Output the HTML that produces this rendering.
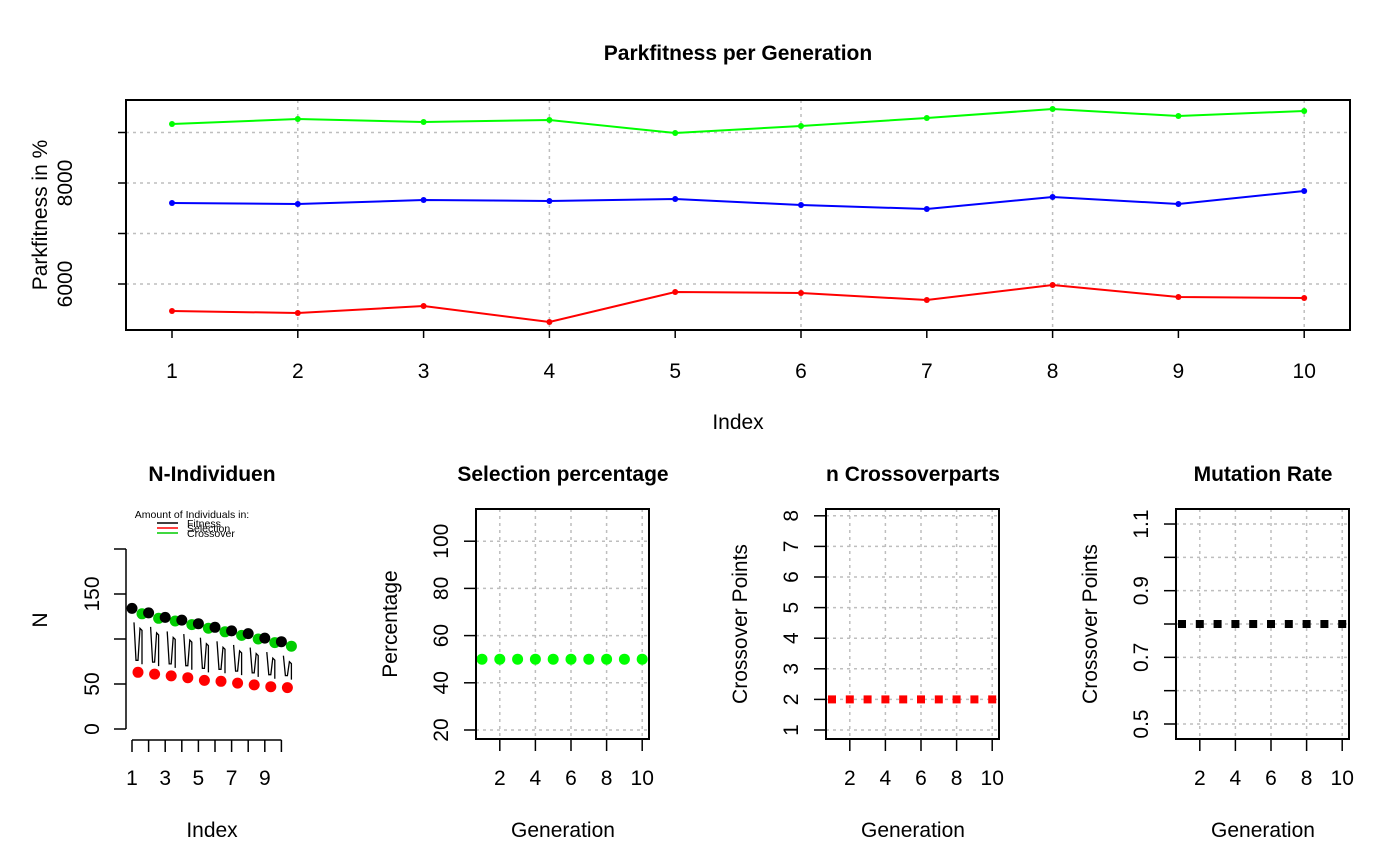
<!DOCTYPE html>
<html><head><meta charset="utf-8">
<style>
html,body{margin:0;padding:0;background:#fff;}
svg{display:block;font-family:"Liberation Sans",Arial,sans-serif;}
</style></head>
<body>
<svg id="c" width="1400" height="866" viewBox="0 0 1400 866"></svg>
<script>
// ---- data ----
const gens = [1,2,3,4,5,6,7,8,9,10];
const fitGreen = [9168,9267,9208,9248,8990,9129,9287,9465,9327,9426];
const fitBlue = [7604,7584,7663,7644,7683,7564,7485,7723,7584,7842];
const fitRed = [5465,5426,5564,5248,5842,5822,5683,5980,5743,5723];
const topYTicks = [6000,8000];
const topYGrid = [6000,7000,8000,9000];
const nFitness = [134,129,124,121,117,113,109,106,101,97];
const nCrossover = [128,123,120,116,112,108,104,100,96,92];
const nSelection = [63,61,59,57,54,53,51,49,47,46];
const nYTicks = [0,50,100,150,200];
const nYLabels = ["0","50","","150",""];
const nXLabels = ["1","","3","","5","","7","","9",""];
const selValues = [50,50,50,50,50,50,50,50,50,50];
const selTicks = [20,40,60,80,100];
const crossValues = [2,2,2,2,2,2,2,2,2,2];
const crossTicks = [1,2,3,4,5,6,7,8];
const mutValues = [0.8,0.8,0.8,0.8,0.8,0.8,0.8,0.8,0.8,0.8];
const mutTicks = [0.5,0.6,0.7,0.8,0.9,1.0,1.1];
const mutLabels = ["0.5","","0.7","","0.9","","1.1"];
const genTicks = [2,4,6,8,10];

const FS = 21;
const svg = document.getElementById('c');
const NS = 'http://www.w3.org/2000/svg';
function el(tag, attrs, parent){
  const e = document.createElementNS(NS, tag);
  for (const k in attrs) e.setAttribute(k, attrs[k]);
  (parent||svg).appendChild(e);
  return e;
}
function txt(s, x, y, size, opts, parent){
  const t = el('text', {x:x, y:y, 'font-size':size, 'text-anchor':(opts&&opts.anchor)||'middle', fill:'#000'}, parent);
  if (opts && opts.bold) t.setAttribute('font-weight','bold');
  if (opts && opts.rot) t.setAttribute('transform','rotate(-90 '+x+' '+y+')');
  t.textContent = s;
  return t;
}
const grid = {stroke:'#bebebe','stroke-width':1.5,'stroke-dasharray':'3 4'};

// ---- top chart ----
const topChart = el('g', {});


const tx = v => 172 + (v-1)*125.8;
const ty = v => 284 - (v-6000)*101/2000;
topYGrid.forEach(v=>{ el('line',Object.assign({x1:126,x2:1350,y1:ty(v),y2:ty(v)},grid),topChart); });
gens.forEach(g=>{ if(g%2===0) el('line',Object.assign({x1:tx(g),x2:tx(g),y1:100,y2:330},grid),topChart); });
function series(vals, color, name){
  const g = el('g', {}, topChart);
  
  
  el('polyline',{points:vals.map((v,i)=>tx(gens[i])+','+ty(v)).join(' '),fill:'none',stroke:color,'stroke-width':2},g);
  vals.forEach((v,i)=>el('circle',{cx:tx(gens[i]),cy:ty(v),r:3,fill:color},g));
}
series(fitGreen,'#00ff00','series-crossover');
series(fitBlue,'#0000ff','series-fitness');
series(fitRed,'#ff0000','series-selection');
el('rect',{x:126,y:100,width:1224,height:230,fill:'none',stroke:'#000','stroke-width':2},topChart);
gens.forEach(g=>{ el('line',{x1:tx(g),x2:tx(g),y1:330,y2:338,stroke:'#000','stroke-width':1.5},topChart); txt(String(g),tx(g),378,FS,null,topChart); });
topYGrid.forEach(v=>{ el('line',{x1:118,x2:126,y1:ty(v),y2:ty(v),stroke:'#000','stroke-width':1.5},topChart); });
topYTicks.forEach(v=>{ txt(String(v),72,ty(v),FS,{rot:true},topChart); });
txt('Parkfitness per Generation',738,60,FS,{bold:true},topChart);
txt('Index',738,429,FS,null,topChart);
txt('Parkfitness in %',47,215,FS,{rot:true},topChart);

// ---- N-Individuen ----
const np = el('g', {});


const nx = i => 132 + (i-1)*16.6;
const ny = v => 729 - v*0.9;
el('line',{x1:126,x2:126,y1:ny(200),y2:ny(0),stroke:'#000','stroke-width':1.5},np);
nYTicks.forEach((v,i)=>{ el('line',{x1:114,x2:126,y1:ny(v),y2:ny(v),stroke:'#000','stroke-width':1.5},np); if(nYLabels[i]) txt(nYLabels[i],99,ny(v),FS,{rot:true},np); });
el('line',{x1:nx(1),x2:nx(10),y1:740,y2:740,stroke:'#000','stroke-width':1.5},np);
gens.forEach((g,i)=>{ el('line',{x1:nx(g),x2:nx(g),y1:740,y2:752,stroke:'#000','stroke-width':1.5},np); if(nXLabels[i]) txt(nXLabels[i],nx(g),785,FS,null,np); });
gens.forEach((g,i)=>{
  const x = nx(g), t = ny(nFitness[i])+14, b = ny(nSelection[i])-12;
  el('polyline',{points:[x+2,t,x+4,b,x+6,b,x+8,t+6,x+10,t+8,x+10,b+4].join(' '),fill:'none',stroke:'#000','stroke-width':1.3},np);
});
gens.forEach((g,i)=>{
  el('circle',{cx:nx(g)+10,cy:ny(nCrossover[i]),r:5.5,fill:'#00cc00'},np);
  el('circle',{cx:nx(g),cy:ny(nFitness[i]),r:5.5,fill:'#000'},np);
  el('circle',{cx:nx(g)+6,cy:ny(nSelection[i]),r:5.5,fill:'#ff0000'},np);
});
const lg = el('g',{},np);


txt('Amount of Individuals in:',192,518,10.5,null,lg);
[['Fitness','#000'],['Selection','#f00'],['Crossover','#0c0']].forEach((e,i)=>{
  el('line',{x1:157,x2:178,y1:523+i*5,y2:523+i*5,stroke:e[1],'stroke-width':1.5},lg);
  txt(e[0],187,527+i*5,10.5,{anchor:'start'},lg);
});
txt('N-Individuen',212,481,FS,{bold:true},np);
txt('Index',212,837,FS,null,np);
txt('N',47,620,FS,{rot:true},np);

// ---- small box panels ----
function panel(name, x0, title, ylab, ticks, labels, ymap, vals, marker){
  const g = el('g', {});
  
  
  const px = i => x0 + 6 + (i-1)*17.8;
  ticks.forEach(v=>el('line',Object.assign({x1:x0,x2:x0+173,y1:ymap(v),y2:ymap(v)},grid),g));
  genTicks.forEach(v=>el('line',Object.assign({x1:px(v),x2:px(v),y1:509,y2:739},grid),g));
  vals.forEach((v,i)=>{
    if(marker==='circle') el('circle',{cx:px(gens[i]),cy:ymap(v),r:5.5,fill:'#00ff00'},g);
    else el('rect',{x:px(gens[i])-4,y:ymap(v)-4,width:8,height:8,fill:marker},g);
  });
  el('rect',{x:x0,y:509,width:173,height:230,fill:'none',stroke:'#000','stroke-width':2},g);
  ticks.forEach((v,i)=>{ el('line',{x1:x0-12,x2:x0,y1:ymap(v),y2:ymap(v),stroke:'#000','stroke-width':1.5},g); if(labels[i]) txt(labels[i],x0-28,ymap(v),FS,{rot:true},g); });
  genTicks.forEach(v=>{ el('line',{x1:px(v),x2:px(v),y1:739,y2:751,stroke:'#000','stroke-width':1.5},g); txt(String(v),px(v),785,FS,null,g); });
  txt(title,x0+87,481,FS,{bold:true},g);
  txt('Generation',x0+87,837,FS,null,g);
  txt(ylab,x0-79,624,FS,{rot:true},g);
}
panel('selection-chart',476,'Selection percentage','Percentage',selTicks,selTicks.map(String),v=>730-(v-20)*47.2/20,selValues,'circle');
panel('crossover-chart',826,'n Crossoverparts','Crossover Points',crossTicks,crossTicks.map(String),v=>730-(v-1)*30.6,crossValues,'#ff0000');
panel('mutation-chart',1176,'Mutation Rate','Crossover Points',mutTicks,mutLabels,v=>724-(v-0.5)*333.3,mutValues,'#000');
</script>
</body></html>
